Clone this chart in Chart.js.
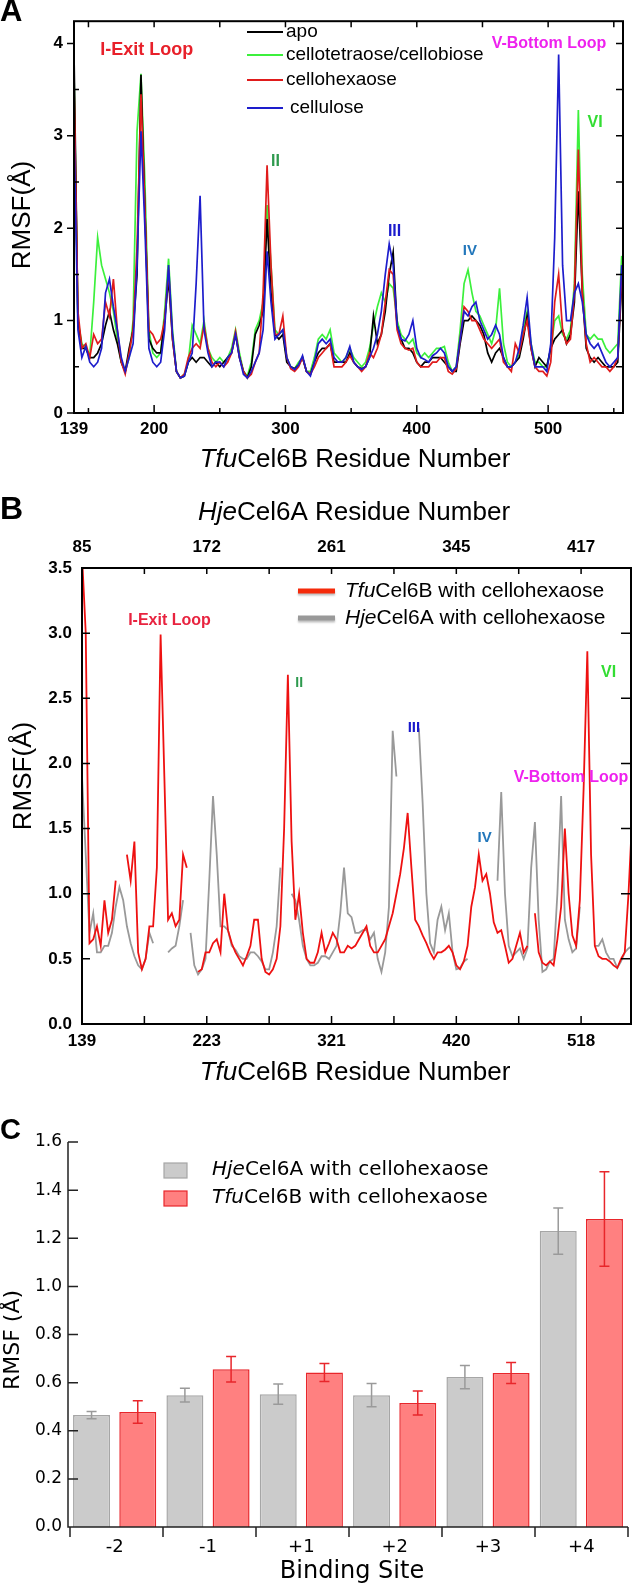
<!DOCTYPE html>
<html>
<head>
<meta charset="utf-8">
<script src="https://cdn.jsdelivr.net/npm/chart.js@4.4.1/dist/chart.umd.min.js"></script>
<style>
  html, body { margin: 0; padding: 0; background: #fff; }
  #wrap { position: relative; width: 633px; height: 1585px; overflow: hidden; background: #fff; }
  canvas { position: absolute; left: 0; }
</style>
</head>
<body>
<div id="wrap">
  <canvas id="chartA" width="633" height="490" style="top:0px"></canvas>
  <canvas id="chartB" width="633" height="600" style="top:490px"></canvas>
  <canvas id="chartC" width="633" height="495" style="top:1090px"></canvas>
</div>
<script>
// ---------- Panel A data: TfuCel6B RMSF per residue ----------
const residuesA = [139,142,145,148,151,154,157,160,163,166,169,172,175,178,181,184,187,190,193,196,
  199,202,205,208,211,214,217,220,223,226,229,232,235,238,241,244,247,250,253,256,
  259,262,265,268,271,274,277,280,283,286,289,292,295,298,301,304,307,310,313,316,
  319,322,325,328,331,334,337,340,343,346,349,352,355,358,361,364,367,370,373,376,
  379,382,385,388,391,394,397,400,403,406,409,412,415,418,421,424,427,430,433,436,
  439,442,445,448,451,454,457,460,463,466,469,472,475,478,481,484,487,490,493,496,
  499,502,505,508,511,514,517,520,523,526,529,532,535,538,541,544,547,550,553,556];

const apo = [3.9,1.0,0.7,0.7,0.6,0.6,0.65,0.75,0.95,1.1,
  0.9,0.75,0.55,0.45,0.7,0.9,1.5,3.66,2.2,0.8,
  0.7,0.65,0.65,1.0,1.45,0.8,0.45,0.38,0.4,0.55,
  0.6,0.55,0.6,0.6,0.55,0.5,0.55,0.5,0.55,0.6,
  0.65,0.85,0.6,0.45,0.38,0.5,0.85,0.95,1.1,2.1,
  1.3,0.85,0.8,0.85,0.55,0.5,0.48,0.52,0.6,0.45,
  0.42,0.55,0.65,0.7,0.7,0.75,0.55,0.55,0.55,0.55,
  0.65,0.55,0.5,0.48,0.5,0.6,1.05,0.75,0.85,1.1,
  1.5,1.74,0.95,0.8,0.7,0.7,0.65,0.55,0.5,0.55,
  0.55,0.6,0.6,0.6,0.55,0.5,0.45,0.45,0.75,1.0,
  1.0,1.05,1.0,0.95,0.85,0.65,0.55,0.65,0.7,0.6,
  0.5,0.5,0.55,0.6,0.8,1.05,0.7,0.5,0.6,0.55,
  0.5,0.7,0.8,0.85,0.9,0.75,0.85,1.2,2.4,1.3,
  0.7,0.6,0.55,0.6,0.55,0.5,0.5,0.5,0.55,1.4];

const cello4 = [3.7,1.0,0.75,0.7,0.62,1.2,1.9,1.6,1.45,1.3,
  1.1,0.8,0.55,0.45,0.6,1.0,3.05,3.67,2.5,0.9,
  0.65,0.6,0.65,1.1,1.67,0.9,0.45,0.38,0.42,0.55,
  0.95,0.85,0.75,1.0,0.7,0.6,0.55,0.6,0.55,0.6,
  0.7,0.9,0.65,0.45,0.4,0.55,0.9,1.0,1.2,2.25,
  1.6,0.9,0.85,0.9,0.6,0.5,0.48,0.55,0.6,0.45,
  0.45,0.6,0.8,0.85,0.8,0.9,0.65,0.6,0.55,0.6,
  0.7,0.6,0.55,0.5,0.55,0.7,0.95,1.15,1.3,1.2,
  1.4,1.35,1.0,0.85,0.8,0.75,0.8,0.65,0.6,0.65,
  0.6,0.65,0.7,0.7,0.72,0.55,0.45,0.5,0.9,1.4,
  1.55,1.3,1.1,1.05,0.95,0.85,0.75,0.9,1.35,0.75,
  0.55,0.5,0.55,0.65,0.9,1.1,0.75,0.55,0.55,0.5,
  0.5,0.7,1.0,1.05,0.85,0.8,0.9,1.4,3.28,1.5,
  0.85,0.8,0.85,0.8,0.8,0.7,0.65,0.7,0.75,1.7];

const cello6 = [3.55,1.1,0.7,0.75,0.6,0.85,0.75,0.8,1.2,1.05,
  1.45,0.9,0.55,0.42,0.65,0.9,1.8,3.45,2.2,0.9,
  0.85,0.75,0.8,1.0,1.55,0.8,0.45,0.38,0.42,0.6,
  0.7,0.75,0.7,0.95,0.7,0.55,0.5,0.55,0.5,0.55,
  0.65,0.88,0.6,0.45,0.38,0.42,0.55,0.65,1.3,2.68,
  1.6,0.85,0.85,1.05,0.6,0.48,0.45,0.5,0.6,0.45,
  0.42,0.5,0.6,0.65,0.7,0.75,0.5,0.5,0.5,0.55,
  0.62,0.55,0.5,0.45,0.5,0.65,0.6,0.7,0.85,1.2,
  1.55,1.5,0.9,0.75,0.7,0.68,0.7,0.55,0.5,0.5,
  0.5,0.55,0.55,0.6,0.6,0.45,0.42,0.48,0.8,1.15,
  1.1,1.0,1.0,0.9,0.8,0.75,0.7,0.75,0.8,0.55,
  0.5,0.45,0.75,0.65,0.85,1.0,0.7,0.5,0.45,0.45,
  0.4,0.55,1.2,1.5,0.9,0.75,0.8,1.3,2.85,1.3,
  0.75,0.55,0.6,0.55,0.5,0.5,0.45,0.5,0.6,1.5];

const cellulose = [3.1,0.9,0.6,0.72,0.55,0.5,0.55,0.7,1.3,1.45,
  1.15,0.9,0.6,0.45,0.6,0.75,1.6,3.05,2.0,0.7,
  0.55,0.5,0.55,0.9,1.6,0.85,0.45,0.38,0.4,0.55,
  0.65,1.4,2.35,0.9,0.65,0.5,0.55,0.55,0.5,0.6,
  0.65,0.85,0.6,0.42,0.38,0.45,0.55,0.65,0.9,1.75,
  1.2,0.8,0.85,0.9,0.6,0.5,0.47,0.52,0.62,0.45,
  0.4,0.55,0.75,0.8,0.75,0.8,0.6,0.55,0.55,0.6,
  0.72,0.55,0.5,0.47,0.5,0.6,0.7,0.85,1.1,1.5,
  1.83,1.6,0.95,0.8,0.78,0.85,1.0,0.7,0.6,0.58,
  0.55,0.62,0.65,0.7,0.65,0.5,0.45,0.5,0.8,1.1,
  1.05,1.15,1.2,1.0,0.9,0.8,0.85,0.95,0.85,0.6,
  0.5,0.5,0.55,0.7,0.95,1.25,0.75,0.5,0.5,0.5,
  0.45,0.75,1.9,3.88,1.6,1.0,1.0,1.3,1.4,1.2,
  0.85,0.75,0.7,0.75,0.65,0.55,0.5,0.55,0.6,1.6];

const xTicksA = [139,150,200,250,300,350,400,450,500,550];
const xLabelsA = [139,200,300,400,500];
const yTicksA = [0,0.5,1,1.5,2,2.5,3,3.5,4];

// ---------- Panel B data: aligned positions, TfuCel6B vs HjeCel6A ----------
const alignPos = [0,3,6,9,12,15,18,21,24,27,30,33,36,39,42,45,48,51,54,57,
  60,63,66,69,72,75,78,81,84,87,90,93,96,99,102,105,108,111,114,117,
  120,123,126,129,132,135,138,141,144,147,150,153,156,159,162,165,168,171,174,177,
  180,183,186,189,192,195,198,201,204,207,210,213,216,219,222,225,228,231,234,237,
  240,243,246,249,252,255,258,261,264,267,270,273,276,279,282,285,288,291,294,297,
  300,303,306,309,312,315,318,321,324,327,330,333,336,339,342,345,348,351,354,357,
  360,363,366,369,372,375,378,381,384,387,390,393,396,399,402,405,408,411,414,417,
  420,423,426,429,432,435,438,441];

const tfuB = [3.6,3.0,0.62,0.65,0.75,0.6,0.95,0.7,0.8,1.1,
  null,null,1.3,1.1,1.4,0.55,0.42,0.5,0.75,0.75,
  1.2,2.99,1.9,0.8,0.85,0.75,0.8,1.3,1.2,null,
  null,0.4,0.42,0.55,0.55,0.62,0.65,0.55,1.0,0.72,
  0.62,0.55,0.5,0.45,0.52,0.6,0.8,0.8,0.5,0.4,
  0.38,0.42,0.5,0.75,1.5,2.68,1.4,0.8,1.0,0.7,
  0.5,0.47,0.47,0.55,0.7,0.55,0.62,0.7,0.65,0.55,
  0.55,0.6,0.58,0.6,0.65,0.7,0.75,0.6,0.55,0.55,
  0.6,0.65,0.75,0.85,1.0,1.15,1.35,1.62,1.2,0.8,
  0.75,0.68,0.62,0.55,0.5,0.55,0.55,0.57,0.6,0.55,
  0.45,0.42,0.48,0.6,0.9,1.05,1.3,1.1,1.15,1.0,
  0.78,0.7,0.72,0.6,0.47,0.5,0.6,0.7,0.55,0.6,
  null,0.85,0.55,0.47,0.45,0.48,0.45,0.65,0.9,1.5,
  1.0,0.68,0.6,0.95,1.8,2.86,1.3,0.6,0.52,0.5,
  0.5,0.48,0.45,0.43,0.5,0.55,1.0,1.6];

const hjeB = [1.9,1.3,0.7,0.85,0.55,0.55,0.6,0.6,0.7,0.9,
  1.05,0.95,0.75,0.62,0.52,0.45,0.42,0.5,0.7,0.62,
  null,null,null,0.55,0.58,0.6,0.75,0.95,null,0.7,
  0.45,0.38,0.42,0.5,1.1,1.75,1.3,0.75,0.75,0.72,
  0.6,0.57,0.52,0.5,0.5,0.55,0.55,0.52,0.48,0.42,
  0.42,0.55,0.75,1.2,null,null,1.0,0.95,0.8,0.6,
  0.5,0.45,0.45,0.47,0.52,0.52,0.5,0.55,0.6,0.85,
  1.2,0.85,0.82,0.7,0.7,0.72,0.72,0.65,0.7,0.5,
  0.4,0.55,0.9,2.25,1.9,null,null,null,null,null,
  2.27,1.7,1.0,0.62,0.55,0.8,0.9,0.72,0.85,0.55,
  0.42,0.43,0.48,0.5,null,null,null,null,null,null,
  null,1.1,1.78,1.0,0.6,0.52,0.55,0.58,0.5,0.58,
  1.2,1.55,0.8,0.4,0.42,0.48,0.5,1.0,1.75,0.8,
  0.65,0.55,0.58,0.9,null,null,null,0.6,0.6,0.65,
  0.55,0.5,0.5,0.43,0.48,0.55,0.58,0.6];

const xTicksB = [0,50,100,150,200,250,300,350,400];
const tfuTickLabels = ['139','','223','','321','','420','','518'];
const hjeTickLabels = ['85','','172','','261','','345','','417'];
const yTicksB = [0,0.5,1,1.5,2,2.5,3,3.5];

// ---------- Panel C data: binding-site RMSF ----------
const sites = ['-2','-1','+1','+2','+3','+4'];
const hjeMean = [0.465,0.548,0.552,0.548,0.623,1.23];
const hjeErr = [0.015,0.029,0.042,0.048,0.048,0.096];
const tfuMean = [0.478,0.656,0.642,0.515,0.64,1.28];
const tfuErr = [0.047,0.053,0.037,0.05,0.044,0.196];
const yTicksC = [0,0.2,0.4,0.6,0.8,1.0,1.2,1.4,1.6];

// ---------- annotations ----------
const notesA = [
  { text: 'I-Exit Loop', x: 159, y: 3.93, color: '#e8202a', size: 18 },
  { text: 'II', x: 289, y: 2.72, color: '#2e9a4e', size: 16 },
  { text: 'III', x: 378, y: 1.96, color: '#1a1acc', size: 16 },
  { text: 'IV', x: 435, y: 1.76, color: '#2277bb', size: 15 },
  { text: 'V-Bottom Loop', x: 457, y: 4.0, color: '#ee22ee', size: 16 },
  { text: 'VI', x: 530, y: 3.14, color: '#33dd33', size: 16 }
];
const notesB = [
  { text: 'I-Exit Loop', x: 37, y: 3.1, color: '#e8233f', size: 16 },
  { text: 'II', x: 171, y: 2.62, color: '#2e9a4e', size: 14 },
  { text: 'III', x: 261, y: 2.27, color: '#1a1acc', size: 15 },
  { text: 'IV', x: 317, y: 1.43, color: '#2277bb', size: 15 },
  { text: 'V-Bottom Loop', x: 346, y: 1.89, color: '#ee22ee', size: 16 },
  { text: 'VI', x: 416, y: 2.7, color: '#33dd33', size: 16 }
];

const FONT = '"Liberation Sans", Arial, sans-serif';
const FONT_C = '"DejaVu Sans", sans-serif';
const boldTick = { family: FONT, size: 17, weight: 'bold' };

// draws text made of plain / italic pieces
function rich(ctx, parts, x, y, size, family, align, color) {
  ctx.save();
  ctx.fillStyle = color || '#000';
  ctx.textBaseline = 'middle';
  ctx.textAlign = 'left';
  const fonts = parts.map(p => (p.i ? 'italic ' : '') + (p.b ? 'bold ' : '') + size + 'px ' + family);
  const widths = parts.map((p, k) => { ctx.font = fonts[k]; return ctx.measureText(p.t).width; });
  const total = widths.reduce((a, b) => a + b, 0);
  let cx = align === 'center' ? x - total / 2 : x;
  parts.forEach((p, k) => { ctx.font = fonts[k]; ctx.fillText(p.t, cx, y); cx += widths[k]; });
  ctx.restore();
}

function rotated(ctx, parts, x, y, size, family) {
  ctx.save();
  ctx.translate(x, y);
  ctx.rotate(-Math.PI / 2);
  rich(ctx, parts, 0, 0, size, family, 'center');
  ctx.restore();
}

function drawNotes(ctx, notes, xs, ys) {
  notes.forEach(n => {
    rich(ctx, [{ t: n.text, b: true }], xs.getPixelForValue(n.x), ys.getPixelForValue(n.y), n.size, FONT, 'left', n.color);
  });
}

function lineSet(values, xs, color, order, width) {
  return {
    data: xs.map((x, i) => ({ x: x, y: values[i] })),
    borderColor: color, borderWidth: width, pointRadius: 0,
    tension: 0, spanGaps: false, order: order, fill: false
  };
}

const noGrid = { display: false, drawTicks: false };

// ---------- Panel A ----------
const decorA = {
  id: 'decorA',
  afterDraw(chart) {
    const { ctx, chartArea: a, scales: { x, y } } = chart;
    ctx.save();
    ctx.strokeStyle = '#000';
    ctx.lineWidth = 2;
    ctx.strokeRect(a.left, a.top, a.right - a.left, a.bottom - a.top);
    ctx.lineWidth = 1.5;
    ctx.beginPath();
    xTicksA.forEach(v => {
      if (v === 139) return;
      const px = x.getPixelForValue(v);
      const L = xLabelsA.includes(v) ? 8 : 5;
      ctx.moveTo(px, a.bottom); ctx.lineTo(px, a.bottom - L);
      ctx.moveTo(px, a.top); ctx.lineTo(px, a.top + 6);
    });
    yTicksA.forEach(v => {
      const py = y.getPixelForValue(v);
      if (Number.isInteger(v)) { ctx.moveTo(a.left, py); ctx.lineTo(a.left - 7, py); }
      else { ctx.moveTo(a.left, py); ctx.lineTo(a.left + 5, py); }
      ctx.moveTo(a.right, py); ctx.lineTo(a.right - 7, py);
    });
    ctx.stroke();
    ctx.restore();

    drawNotes(ctx, notesA, x, y);

    // legend
    const legend = [
      { t: 'apo', c: '#000000', y: 32, dx: 0 },
      { t: 'cellotetraose/cellobiose', c: '#3cf03c', y: 55, dx: 0 },
      { t: 'cellohexaose', c: '#e01b1b', y: 80, dx: 0 },
      { t: 'cellulose', c: '#1d1dcc', y: 108, dx: 4 }
    ];
    legend.forEach(l => {
      ctx.save();
      ctx.strokeStyle = l.c; ctx.lineWidth = 2;
      ctx.beginPath(); ctx.moveTo(247, l.y); ctx.lineTo(283, l.y); ctx.stroke();
      ctx.restore();
      rich(ctx, [{ t: l.t }], 286 + l.dx, l.y, 19, FONT, 'left');
    });

    rich(ctx, [{ t: 'A', b: true }], 0, 12, 31, FONT, 'left');
    rich(ctx, [{ t: 'Tfu', i: true }, { t: 'Cel6B Residue Number' }], 355, 460, 26, FONT, 'center');
    rotated(ctx, [{ t: 'RMSF(Å)' }], 23, 215, 26, FONT);
  }
};

new Chart(document.getElementById('chartA'), {
  type: 'line',
  data: {
    datasets: [
      lineSet(apo, residuesA, '#000000', 2, 1.7),
      lineSet(cello4, residuesA, '#3cf03c', 3, 1.7),
      lineSet(cello6, residuesA, '#e01b1b', 1, 1.7),
      lineSet(cellulose, residuesA, '#1d1dcc', 0, 1.7)
    ]
  },
  options: {
    responsive: false, animation: false, events: [],
    layout: { padding: { top: 10, right: 10, left: 0, bottom: 0 } },
    plugins: { legend: { display: false }, tooltip: { enabled: false } },
    scales: {
      x: {
        type: 'linear', min: 139, max: 557,
        afterBuildTicks: s => { s.ticks = xTicksA.map(v => ({ value: v })); },
        afterFit: s => { s.height = 77; },
        grid: noGrid, border: { display: false },
        ticks: { autoSkip: false, maxRotation: 0, padding: 6, color: '#000', font: boldTick,
          callback: v => xLabelsA.includes(v) ? String(v) : '' }
      },
      y: {
        min: 0, max: 4.24,
        afterBuildTicks: s => { s.ticks = yTicksA.map(v => ({ value: v })); },
        afterFit: s => { s.width = 74; },
        grid: noGrid, border: { display: false },
        ticks: { padding: 11, color: '#000', font: boldTick,
          callback: v => Number.isInteger(v) ? String(v) : '' }
      }
    }
  },
  plugins: [decorA]
});

// ---------- Panel B ----------
const decorB = {
  id: 'decorB',
  afterDraw(chart) {
    const { ctx, chartArea: a, scales: { x, y } } = chart;
    ctx.save();
    ctx.strokeStyle = '#000';
    ctx.lineWidth = 2;
    ctx.strokeRect(a.left, a.top, a.right - a.left, a.bottom - a.top);
    ctx.lineWidth = 1.5;
    ctx.beginPath();
    xTicksB.forEach(v => {
      if (v === 0) return;
      const px = x.getPixelForValue(v);
      ctx.moveTo(px, a.bottom); ctx.lineTo(px, a.bottom - 8);
      ctx.moveTo(px, a.top); ctx.lineTo(px, a.top + 6);
    });
    yTicksB.forEach(v => {
      const py = y.getPixelForValue(v);
      ctx.moveTo(a.left, py); ctx.lineTo(a.left + 8, py);
      ctx.moveTo(a.right, py); ctx.lineTo(a.right - 10, py);
    });
    ctx.stroke();
    ctx.restore();

    drawNotes(ctx, notesB, x, y);

    // legend
    const legend = [
      { parts: [{ t: 'Tfu', i: true }, { t: 'Cel6B with cellohexaose' }], c: '#f52a0a', y: 101 },
      { parts: [{ t: 'Hje', i: true }, { t: 'Cel6A with cellohexaose' }], c: '#999999', y: 128 }
    ];
    legend.forEach(l => {
      ctx.save();
      ctx.shadowColor = 'rgba(0,0,0,0.25)'; ctx.shadowOffsetY = 2; ctx.shadowBlur = 2;
      ctx.strokeStyle = l.c; ctx.lineWidth = 5;
      ctx.beginPath(); ctx.moveTo(298, l.y); ctx.lineTo(335, l.y); ctx.stroke();
      ctx.restore();
      rich(ctx, l.parts, 345, l.y, 21, FONT, 'left');
    });

    rich(ctx, [{ t: 'B', b: true }], 0, 20, 32, FONT, 'left');
    rich(ctx, [{ t: 'Hje', i: true }, { t: 'Cel6A Residue Number' }], 354, 23, 26, FONT, 'center');
    rich(ctx, [{ t: 'Tfu', i: true }, { t: 'Cel6B Residue Number' }], 355, 583, 26, FONT, 'center');
    rotated(ctx, [{ t: 'RMSF(Å)' }], 24, 286, 26, FONT);
  }
};

new Chart(document.getElementById('chartB'), {
  type: 'line',
  data: {
    datasets: [
      lineSet(tfuB, alignPos, '#ee1111', 0, 1.8),
      lineSet(hjeB, alignPos, '#999999', 1, 1.8)
    ]
  },
  options: {
    responsive: false, animation: false, events: [],
    layout: { padding: { top: 0, right: 2, left: 0, bottom: 0 } },
    plugins: { legend: { display: false }, tooltip: { enabled: false } },
    scales: {
      x: {
        type: 'linear', min: 0, max: 440, position: 'bottom',
        afterBuildTicks: s => { s.ticks = xTicksB.map(v => ({ value: v })); },
        afterFit: s => { s.height = 66; },
        grid: noGrid, border: { display: false },
        ticks: { autoSkip: false, maxRotation: 0, padding: 7, color: '#000', font: boldTick,
          callback: (v, i) => tfuTickLabels[i] }
      },
      xTop: {
        type: 'linear', min: 0, max: 440, position: 'top',
        afterBuildTicks: s => { s.ticks = xTicksB.map(v => ({ value: v })); },
        afterFit: s => { s.height = 78; },
        grid: noGrid, border: { display: false },
        ticks: { autoSkip: false, maxRotation: 0, padding: 10, color: '#000', font: boldTick,
          callback: (v, i) => hjeTickLabels[i] }
      },
      y: {
        min: 0, max: 3.5,
        afterBuildTicks: s => { s.ticks = yTicksB.map(v => ({ value: v })); },
        afterFit: s => { s.width = 82; },
        grid: noGrid, border: { display: false },
        ticks: { padding: 10, color: '#000', font: boldTick, callback: v => v.toFixed(1) }
      }
    }
  },
  plugins: [decorB]
});

// ---------- Panel C ----------
const decorC = {
  id: 'decorC',
  afterDatasetsDraw(chart) {
    const { ctx, scales: { y } } = chart;
    chart.data.datasets.forEach((ds, di) => {
      const meta = chart.getDatasetMeta(di);
      meta.data.forEach((bar, i) => {
        const v = ds.data[i], e = ds.errors[i];
        const yT = y.getPixelForValue(v + e), yB = y.getPixelForValue(v - e);
        ctx.save();
        ctx.strokeStyle = ds.errColor; ctx.lineWidth = 1.5;
        ctx.beginPath();
        ctx.moveTo(bar.x, yT); ctx.lineTo(bar.x, yB);
        ctx.moveTo(bar.x - 5, yT); ctx.lineTo(bar.x + 5, yT);
        ctx.moveTo(bar.x - 5, yB); ctx.lineTo(bar.x + 5, yB);
        ctx.stroke();
        ctx.restore();
      });
    });
  },
  afterDraw(chart) {
    const { ctx, chartArea: a, scales: { y } } = chart;
    ctx.save();
    ctx.strokeStyle = '#222';
    ctx.lineWidth = 1.5;
    ctx.beginPath();
    ctx.moveTo(a.left, a.top); ctx.lineTo(a.left, a.bottom); ctx.lineTo(a.right, a.bottom);
    yTicksC.forEach(v => {
      const py = y.getPixelForValue(v);
      ctx.moveTo(a.left, py); ctx.lineTo(a.left + 10, py);
    });
    const n = sites.length;
    for (let i = 0; i <= n; i++) {
      const px = a.left + 2 + i * (a.right - a.left - 2) / n;
      ctx.moveTo(px, a.bottom); ctx.lineTo(px, a.bottom + 10);
    }
    ctx.stroke();
    ctx.restore();

    // legend
    const legend = [
      { parts: [{ t: 'Hje', i: true }, { t: 'Cel6A with cellohexaose' }], fill: '#cbcbcb', line: '#a6a6a6', y: 80 },
      { parts: [{ t: 'Tfu', i: true }, { t: 'Cel6B with cellohexaose' }], fill: '#ff8080', line: '#e8262b', y: 108 }
    ];
    legend.forEach(l => {
      ctx.save();
      ctx.fillStyle = l.fill; ctx.strokeStyle = l.line; ctx.lineWidth = 1.2;
      ctx.fillRect(164, l.y - 7, 23, 15);
      ctx.strokeRect(164, l.y - 7, 23, 15);
      ctx.restore();
      rich(ctx, l.parts, 212, l.y, 20, FONT_C, 'left');
    });

    rich(ctx, [{ t: 'C', b: true }], 0, 41, 29, FONT, 'left');
    rich(ctx, [{ t: 'Binding Site' }], 352, 482, 24, FONT_C, 'center');
    rotated(ctx, [{ t: 'RMSF (Å)' }], 13, 250, 22, FONT_C);
  }
};

new Chart(document.getElementById('chartC'), {
  type: 'bar',
  data: {
    labels: sites,
    datasets: [
      { data: hjeMean, errors: hjeErr, errColor: '#9a9a9a', backgroundColor: '#cbcbcb', borderColor: '#a6a6a6', borderWidth: 1.5 },
      { data: tfuMean, errors: tfuErr, errColor: '#e8262b', backgroundColor: '#ff8080', borderColor: '#e8262b', borderWidth: 1.5 }
    ]
  },
  options: {
    responsive: false, animation: false, events: [],
    layout: { padding: { top: 52, right: 5, left: 0, bottom: 0 } },
    plugins: { legend: { display: false }, tooltip: { enabled: false } },
    datasets: { bar: { categoryPercentage: 0.99, barPercentage: 0.8 } },
    scales: {
      x: {
        afterFit: s => { s.height = 58; },
        grid: noGrid, border: { display: false },
        ticks: { padding: 10, color: '#000', font: { family: FONT_C, size: 18 } }
      },
      y: {
        min: 0, max: 1.6,
        afterBuildTicks: s => { s.ticks = yTicksC.map(v => ({ value: v })); },
        afterFit: s => { s.width = 68; },
        grid: noGrid, border: { display: false },
        ticks: { padding: 6, color: '#000', font: { family: FONT_C, size: 17 }, callback: v => v.toFixed(1) }
      }
    }
  },
  plugins: [decorC]
});
</script>
</body>
</html>
